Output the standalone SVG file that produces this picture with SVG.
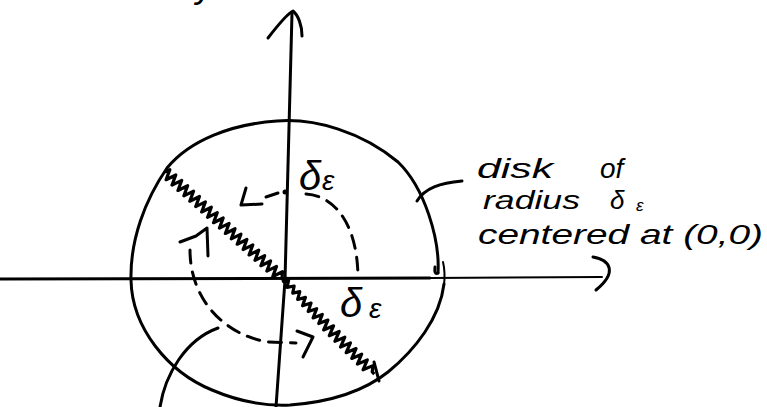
<svg xmlns="http://www.w3.org/2000/svg" width="767" height="407" viewBox="0 0 767 407">
<style>
.s{fill:none;stroke:#000;stroke-width:3;stroke-linecap:round;stroke-linejoin:round}
.t{stroke-width:2}
.d{fill:none;stroke:#000;stroke-width:3;stroke-dasharray:13 9;stroke-linecap:round}
.z{fill:none;stroke:#000;stroke-width:3.2;stroke-linejoin:round}
text{font-family:"Liberation Sans","DejaVu Sans",sans-serif;font-style:italic;fill:#000}
</style>
<rect width="767" height="407" fill="#fff"/>
<text x="196" y="-3" font-size="36">y</text>
<g id="axes">
<path class="s" d="M0,279 L430,278"/>
<path class="s t" d="M430,278 L602,277"/>
<path class="s" d="M593,257 C610,260 618,272 596,290"/>
<path class="s" d="M276,407 L285,280 L292,13"/>
<path class="s" d="M268,38 C278,25 287,14 293,11 C298,15 302,25 302,36"/>
</g>
<g id="disk">
<path class="s" d="M438,273 C440,240 425,188 398,162 C362,132 315,118 277,121 C232,124 190,140 167,168 C145,200 130,240 131,280 C132,328 168,372 212,390 C240,402 268,406 290,405 C330,402 363,392 388,372 C415,350 440,318 444,284"/>
<path class="s t" d="M443,262 C445,270 445,276 444,286"/>
<path class="s" d="M438,273 q-4,2 -3,-6"/>
</g>
<g id="cut">
<g transform="translate(165,172) rotate(42.2)">
<path class="z" d="M0,0 l2,-5 l4,10 l4,-10 l4,10 l4,-10 l4,10 l4,-10 l4,10 l4,-10 l4,10 l4,-10 l4,10 l4,-10 l4,10 l4,-10 l4,10 l4,-10 l4,10 l4,-10 l4,10 l4,-10 l4,10 l4,-10 l4,10 l4,-10 l4,10 l4,-10 l4,10 l4,-10 l4,10 l4,-10 l4,10 l4,-10 l4,10 l4,-10 l4,10 l4,-10 l4,10 l4,-10 l4,5 l3,0"/>
</g>
<g transform="translate(285,281) rotate(45.3)">
<path class="z" d="M0,0 l2,-3 l4,6 l4,-6 l4,6 l4,-6 l4,7 l4,-7 l4,8 l4,-8 l4,8 l4,-8 l4,9 l4,-9 l4,9 l4,-9 l4,10 l4,-10 l4,10 l4,-10 l4,10 l4,-10 l4,10 l4,-10 l4,10 l4,-10 l4,10 l4,-10 l4,10 l4,-10 l4,10 l4,-10 l4,5 l3,0"/>
</g>
<path class="s" d="M374,362 L379,381"/>
<circle cx="285" cy="280" r="3.5"/>
</g>
<g id="path-around">
<path class="s" d="M246,188 L241,205 L262,204"/>
<path class="s" d="M266,197 L278,193"/>
<circle cx="285" cy="192" r="2.5"/>
<path class="d" d="M306,194 C336,196 358,226 358,279"/>
<path class="d" d="M190,250 C190,300 225,335 268,342 L296,343"/>
<path class="s" d="M297,331 L313,337 L303,357"/>
<path class="s" d="M180,242 L196,236 L207,228 L208,256"/>
</g>
<g id="labels">
<text x="299" y="190" font-size="40">δ</text>
<text x="322" y="190" font-size="28">ε</text>
<text x="340" y="317" font-size="40">δ</text>
<text x="369" y="318" font-size="28">ε</text>
</g>
<g id="disk-label">
<path class="s" d="M417,201 C425,188 440,183 462,181"/>
<text x="477" y="178" font-size="28" textLength="76" lengthAdjust="spacingAndGlyphs">disk</text>
<text x="600" y="178" font-size="28">of</text>
<text x="483" y="209" font-size="26" textLength="97" lengthAdjust="spacingAndGlyphs">radius</text>
<text x="610" y="209" font-size="26">δ</text>
<text x="636" y="211" font-size="17">ε</text>
<text x="478" y="244" font-size="28" textLength="285" lengthAdjust="spacingAndGlyphs">centered at (0,0)</text>
</g>
<g id="pointer">
<path class="s" d="M160,407 C165,375 185,340 218,328"/>
</g>
</svg>
